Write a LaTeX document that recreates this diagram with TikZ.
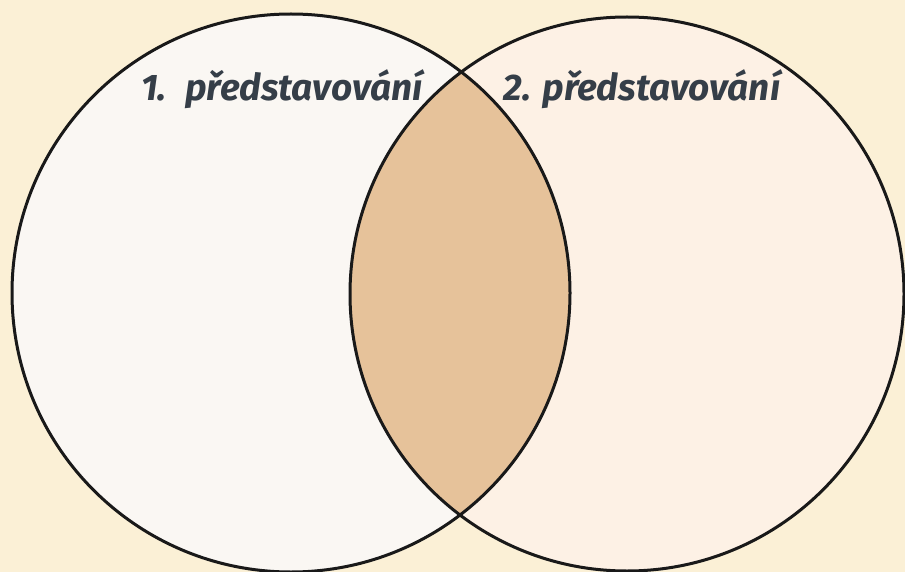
\documentclass[tikz,border=0pt]{standalone}
\usepackage{fontspec}
\setmainfont{Fira Sans}
\definecolor{bgc}{HTML}{FBF0D6}
\definecolor{leftc}{HTML}{FAF7F3}
\definecolor{rightc}{HTML}{FDF1E5}
\definecolor{lensc}{HTML}{E6C29A}
\definecolor{txtc}{HTML}{353E48}
\tikzset{
  ring/.style={draw=black!90, line width=3pt},
  lbl/.style={text=txtc, font=\bfseries\itshape\fontsize{37}{40}\selectfont, inner sep=0pt, anchor=base}
}
\begin{document}
\begin{tikzpicture}[x=1pt,y=-1pt]
\fill[bgc] (0,0) rectangle (905,572);
\useasboundingbox (0,0) rectangle (905,572);
\coordinate (cl) at (291,293);
\coordinate (cr) at (627,294);
\fill[leftc] (cl) circle[radius=279pt];
\fill[rightc] (cr) circle[radius=277pt];
\begin{scope}
  \clip (cl) circle[radius=279pt];
  \fill[lensc] (cr) circle[radius=277pt];
\end{scope}
\draw[ring] (cl) circle[radius=279pt];
\draw[ring] (cr) circle[radius=277pt];
\node[lbl] (t1) at (282,101) {1.\enspace představování};
\node[lbl] (t2) at (642,101) {2. představování};
\end{tikzpicture}
\end{document}
